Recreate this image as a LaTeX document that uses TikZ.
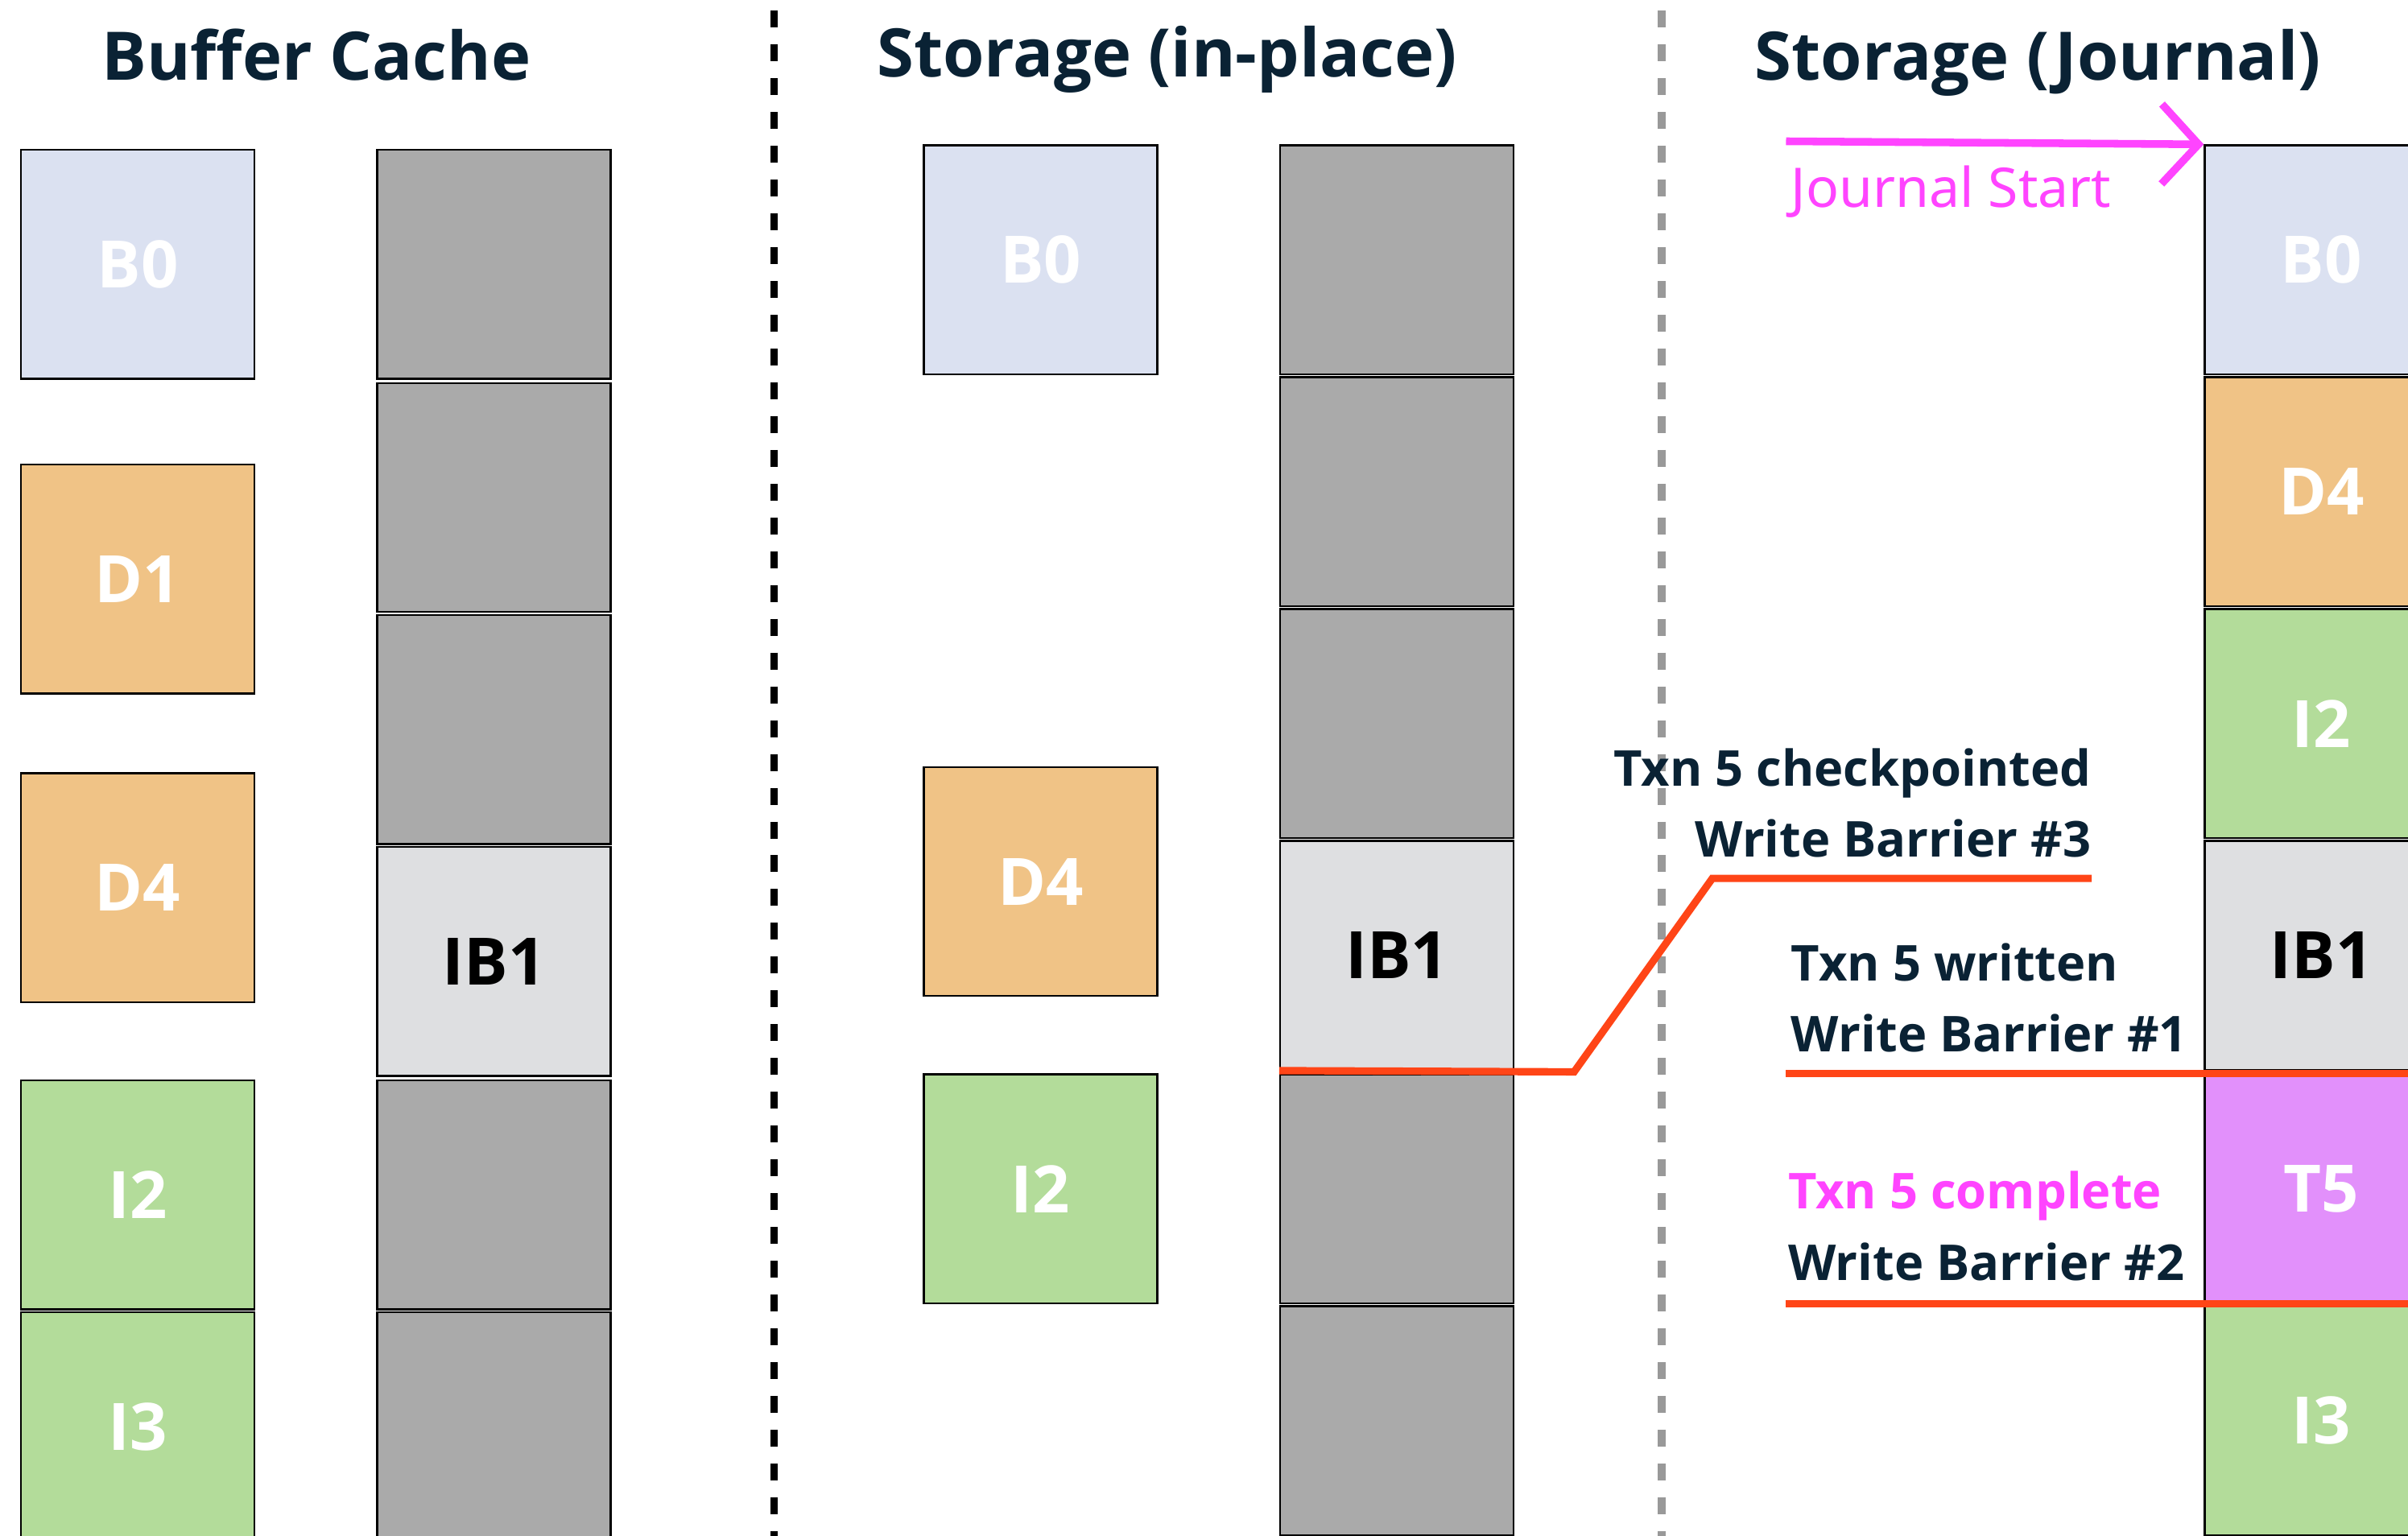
\documentclass[tikz,border=0pt]{standalone}
\usepackage{fontspec}
\setmainfont{Noto Sans}
\newfontfamily\sbf{Open Sans}
\usetikzlibrary{arrows.meta}
\definecolor{navy}{HTML}{0A2234}
\definecolor{cblue}{HTML}{DBE1F1}
\definecolor{corange}{HTML}{F0C386}
\definecolor{cgreen}{HTML}{B3DC9A}
\definecolor{cgray}{HTML}{AAAAAA}
\definecolor{cib}{HTML}{DEDFE1}
\definecolor{cviolet}{HTML}{E290FB}
\definecolor{cmag}{HTML}{FF44FF}
\definecolor{cred}{HTML}{FF4517}
\definecolor{cdash}{HTML}{999999}
\tikzset{
  blk/.style={draw=black, line width=0.6pt, minimum width=76pt, minimum height=74.5pt,
    inner sep=0pt, anchor=north west, text=white,
    font=\sbf\bfseries\fontsize{21.3}{24}\selectfont},
  gblk/.style={blk, fill=cgray},
  title/.style={inner sep=0pt, anchor=base, text=navy, font=\sbf\bfseries\fontsize{21.8}{26}\selectfont},
  lbl/.style={inner sep=0pt, text=navy, font=\sbf\bfseries\fontsize{16.1}{18}\selectfont},
  redline/.style={draw=cred, line width=2.4pt},
  divider/.style={line width=2.5pt, dash pattern=on 5.5pt off 5.5pt},
}
\begin{document}
\begin{tikzpicture}[x=0.5pt,y=-0.5pt]
\useasboundingbox (0,0) rectangle (1568,1000);
\clip (0,0) rectangle (1568,1000);
% titles
\node[title] (t1) at (206,52) {Buffer Cache};
\node[title] (t2) at (760,50) {Storage (in-place)};
\node[title] (t3) at (1327,52) {Storage (Journal)};
% dividers
\coordinate (d1t) at (504,7); \coordinate (d1b) at (504,1000);
\coordinate (d2t) at (1082,7); \coordinate (d2b) at (1082,1000);
\draw[divider, black] (d1t) -- (d1b);
\draw[divider, cdash] (d2t) -- (d2b);
% column 1
\node[blk, fill=cblue] (c1b0) at (13,97) {B0};
\node[blk, fill=corange] (c1d1) at (13,302) {D1};
\node[blk, fill=corange] (c1d4) at (13,503) {D4};
\node[blk, fill=cgreen] (c1i2) at (13,703) {I2};
\node[blk, fill=cgreen] (c1i3) at (13,854) {I3};
\node[gblk] (c1g1) at (245,97) {};
\node[gblk] (c1g2) at (245,249) {};
\node[gblk] (c1g3) at (245,400) {};
\node[blk, fill=cib, text=black] (c1ib1) at (245,551) {IB1};
\node[gblk] (c1g4) at (245,703) {};
\node[gblk] (c1g5) at (245,854) {};
% column 2
\node[blk, fill=cblue] (c2b0) at (601,94) {B0};
\node[blk, fill=corange] (c2d4) at (601,499) {D4};
\node[blk, fill=cgreen] (c2i2) at (601,699) {I2};
\node[gblk] (c2g1) at (833,94) {};
\node[gblk] (c2g2) at (833,245) {};
\node[gblk] (c2g3) at (833,396) {};
\node[blk, fill=cib, text=black] (c2ib1) at (833,547) {IB1};
\node[gblk] (c2g4) at (833,699) {};
\node[gblk] (c2g5) at (833,850) {};
% column 3 (journal)
\node[blk, fill=cblue] (jb0) at (1435,94) {B0};
\node[blk, fill=corange] (jd4) at (1435,245) {D4};
\node[blk, fill=cgreen] (ji2) at (1435,396) {I2};
\node[blk, fill=cib, text=black] (jib1) at (1435,547) {IB1};
\node[blk, fill=cviolet] (jt5) at (1435,699) {T5};
\node[blk, fill=cgreen] (ji3) at (1435,850) {I3};
% journal start
\coordinate (js) at (1163,92);
\draw[cmag, line width=2.5pt, -{Straight Barb[length=12pt,width=26pt]}] (js) -- (jb0.north west);
\node[inner sep=0pt, anchor=base west, text=cmag, font=\fontsize{17.8}{20}\selectfont] (jsl) at (1166,135) {Journal Start};
% labels
\node[lbl, anchor=base east] (l1) at (1362,512) {Txn 5 checkpointed};
\node[lbl, anchor=base east] (l2) at (1362,558) {Write Barrier \#3};
\node[lbl, anchor=base west] (l3) at (1166,639) {Txn 5 written};
\node[lbl, anchor=base west] (l4) at (1166,685) {Write Barrier \#1};
\node[lbl, anchor=base west, text=cmag] (l5) at (1164,787) {Txn 5 complete};
\node[lbl, anchor=base west] (l6) at (1164,834) {Write Barrier \#2};
% red lines
\coordinate (k1) at (1025,698);
\coordinate (k2) at (1115,572);
\coordinate (k3) at (1362,572);
\draw[redline] (c2ib1.south west) -- (k1) -- (k2) -- (k3);
\coordinate (w1) at (1163,699);
\coordinate (w1e) at (1600,699);
\draw[redline] (w1) -- (w1e);
\coordinate (w2) at (1163,849);
\coordinate (w2e) at (1600,849);
\draw[redline] (w2) -- (w2e);
\end{tikzpicture}
\end{document}
